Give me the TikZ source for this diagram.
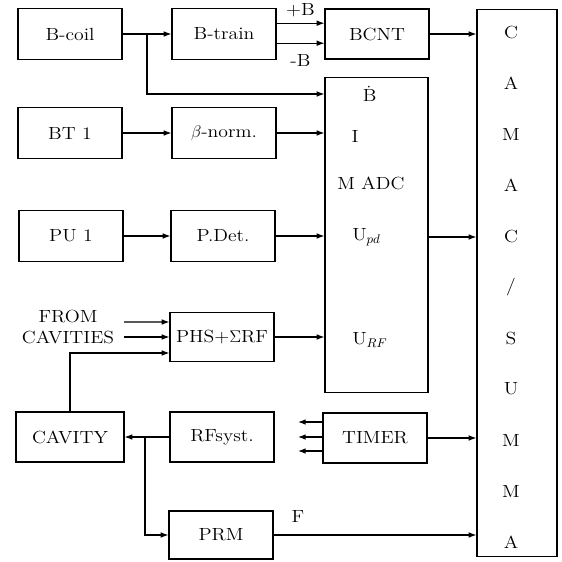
\documentclass[tikz,border=0pt]{standalone}
\usepackage{fontspec}
\setmainfont{Latin Modern Roman}[FakeStretch=1.12]
\usetikzlibrary{arrows.meta, calc}

\tikzset{
  blk/.style={draw, line width=0.75pt, minimum width=2.6cm, minimum height=1.28cm, inner sep=0pt},
  sig/.style={line width=0.75pt, -{Latex[length=5.5pt,width=4pt]}},
  wire/.style={line width=0.75pt},
}

\begin{document}
\begin{tikzpicture}[x=0.025cm, y=-0.025cm, font=\fontsize{12.5}{15}\selectfont]
  \useasboundingbox (0,0) rectangle (562,562);

  % left column
  \node[blk] (bcoil)  at (70,34)   {B-coil};
  \node[blk] (bt)     at (70,133)  {BT 1};
  \node[blk] (pu)     at (71,236)  {PU 1};
  \node[blk, minimum width=2.7cm, minimum height=1.25cm] (cavity) at (70,437) {CAVITY};
  \node[align=center] (fromcav) at (68,327) {FROM\\CAVITIES};

  % middle column
  \node[blk] (btrain) at (224,34)  {B-train};
  \node[blk] (bnorm)  at (224,133) {$\beta$-norm.};
  \node[blk] (pdet)   at (223,236) {P.Det.};
  \node[blk, minimum height=1.22cm] (phs) at (222,337) {PHS+$\Sigma$RF};
  \node[blk, minimum height=1.25cm] (rfsyst) at (222,437) {RFsyst.};
  \node[blk, minimum height=1.2cm]  (prm)    at (221,535) {PRM};

  % right column
  \node[blk, minimum height=1.25cm] (bcnt)  at (377,34)  {BCNT};
  \node[blk, minimum height=1.25cm] (timer) at (375,438) {TIMER};
  \node[draw, line width=0.75pt, minimum width=2.575cm, minimum height=7.85cm] (adc) at (376.5,235) {};
  \node (lbdot) at (369,94)  {$\dot{\mathrm{B}}$};
  \node (li)    at (355,136) {I};
  \node (lmadc) at (371,183) {M ADC};
  \node[anchor=west, inner sep=0pt] (lupd) at (352,237) {U$_{pd}$};
  \node[anchor=west, inner sep=0pt] (lurf) at (352,340) {U$_{RF}$};

  % CAMAC crate
  \node[draw, line width=0.75pt, minimum width=2cm, minimum height=13.65cm] (camac) at (517,283) {};
  \foreach \l [count=\i from 0] in {C,A,M,A,C,/,S,U,M,M,A}
    \node at (511,32+51*\i) {\l};

  % free ends
  \coordinate (bsplit) at (147,34);
  \coordinate (rsplit) at (145,437);
  \coordinate (fc1) at (124,322);
  \coordinate (fc2) at (124,337);
  \coordinate (tl1) at (298,422);
  \coordinate (tl2) at (298,437);
  \coordinate (tl3) at (298,451);

  % connectors
  \draw[sig] (bcoil.east) -- (btrain.west);
  \draw[sig] (bsplit) |- (adc.west |- lbdot);
  \draw[sig] ([yshift=0.27cm]btrain.east) -- node[above=1pt] {+B} ([yshift=0.27cm]bcnt.west);
  \draw[sig] ([yshift=-0.23cm]btrain.east) -- node[below=4pt] {-B} ([yshift=-0.23cm]bcnt.west);
  \draw[sig] (bcnt.east) -- (bcnt.east -| camac.west);
  \draw[sig] (bt.east) -- (bnorm.west);
  \draw[sig] (bnorm.east) -- (adc.west |- bnorm.east);
  \draw[sig] (pu.east) -- (pdet.west);
  \draw[sig] (pdet.east) -- (adc.west |- pdet.east);
  \draw[sig] (adc.east |- lupd) -- (camac.west |- lupd);
  \draw[sig] (fc1) -- ([yshift=0.375cm]phs.west);
  \draw[sig] (fc2) -- (phs.west);
  \draw[sig] (cavity.north) |- ([yshift=-0.4cm]phs.west);
  \draw[sig] (phs.east) -- (adc.west |- phs.east);
  \draw[sig] (rfsyst.west) -- (cavity.east);
  \draw[sig] (rsplit) |- (prm.west);
  \draw[sig] (prm.east) -- node[pos=0.12, above=5pt] {F} (prm.east -| camac.west);
  \draw[sig] (timer.east) -- (timer.east -| camac.west);
  \draw[sig] (timer.west |- tl1) -- (tl1);
  \draw[sig] (timer.west |- tl2) -- (tl2);
  \draw[sig] (timer.west |- tl3) -- (tl3);
\end{tikzpicture}
\end{document}
